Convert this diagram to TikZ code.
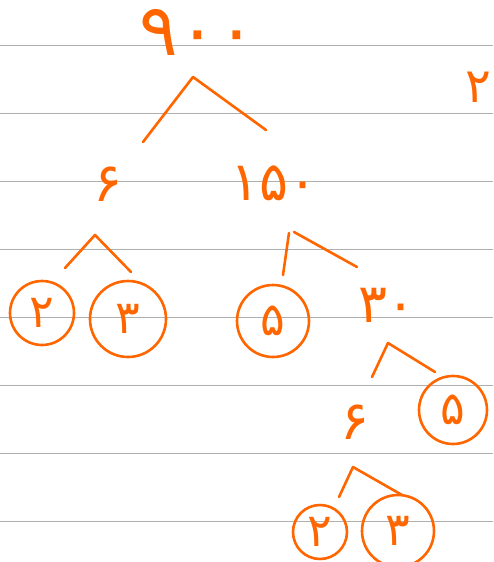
\documentclass[tikz,border=0pt]{standalone}
\usepackage{fontspec}
\newfontfamily\fa[Script=Arabic]{DejaVu Sans}
\definecolor{pen}{RGB}{255,102,0}
\definecolor{ruleline}{RGB}{175,175,175}
\tikzset{
  num/.style={text=pen, inner sep=0pt, font=\fa\fontsize{#1}{#1}\selectfont},
  num/.default=54,
  leaf/.style={num=46, draw=pen, line width=2.6pt, circle, minimum size=#1},
  leaf/.default=66,
  branch/.style={draw=pen, line width=2.6pt, line cap=round, line join=round}
}
\begin{document}
\begin{tikzpicture}[x=1pt, y=-1pt]
  \useasboundingbox (0,0) rectangle (493,562);

  % Линии тетради
  \foreach \y in {45,113,...,521}
    \draw[ruleline, line width=1pt] (0,\y) -- (493,\y);

  % Числа дерева
  \node[num=72] (n900) at (198,32) {۹۰۰};
  \node[num=48] (page) at (478,87) {۲};
  \node[num] (n6) at (108,184) {۶};
  \node[num] (n150) at (274,183) {۱۵۰};
  \node[num] (n30) at (387,305) {۳۰};
  \node[num] (n6b) at (355,422) {۶};

  % Простые множители в кружках
  \node[leaf=64] (c2a) at (42,313) {۲};
  \node[leaf=76] (c3a) at (128,319) {۳};
  \node[leaf=72] (c5a) at (273,321) {۵};
  \node[leaf=68] (c5b) at (453,410) {۵};
  \node[leaf=54] (c2b) at (320,532) {۲};
  \node[leaf=72] (c3b) at (398,531) {۳};

  % Вершины и концы ветвей
  \coordinate (a900) at (193,77);
  \coordinate (l900) at (143,142);
  \coordinate (r900) at (266,130);

  \coordinate (a6) at (95,235);
  \coordinate (l6) at (65,268);
  \coordinate (r6) at (131,272);

  \coordinate (a150l) at (289,233);
  \coordinate (a150r) at (294,232);
  \coordinate (l150) at (283,275);
  \coordinate (r150) at (357,267);

  \coordinate (a30) at (388,343);
  \coordinate (l30) at (372,377);
  \coordinate (r30) at (435,372);

  \coordinate (a6b) at (353,467);
  \coordinate (l6b) at (339,497);
  \coordinate (r6b) at (402,495);

  % Ветви
  \draw[branch] (l900) -- (a900) -- (r900);
  \draw[branch] (l6) -- (a6) -- (r6);
  \draw[branch] (a150l) -- (l150);
  \draw[branch] (a150r) -- (r150);
  \draw[branch] (l30) -- (a30) -- (r30);
  \draw[branch] (l6b) -- (a6b) -- (r6b);
\end{tikzpicture}
\end{document}
